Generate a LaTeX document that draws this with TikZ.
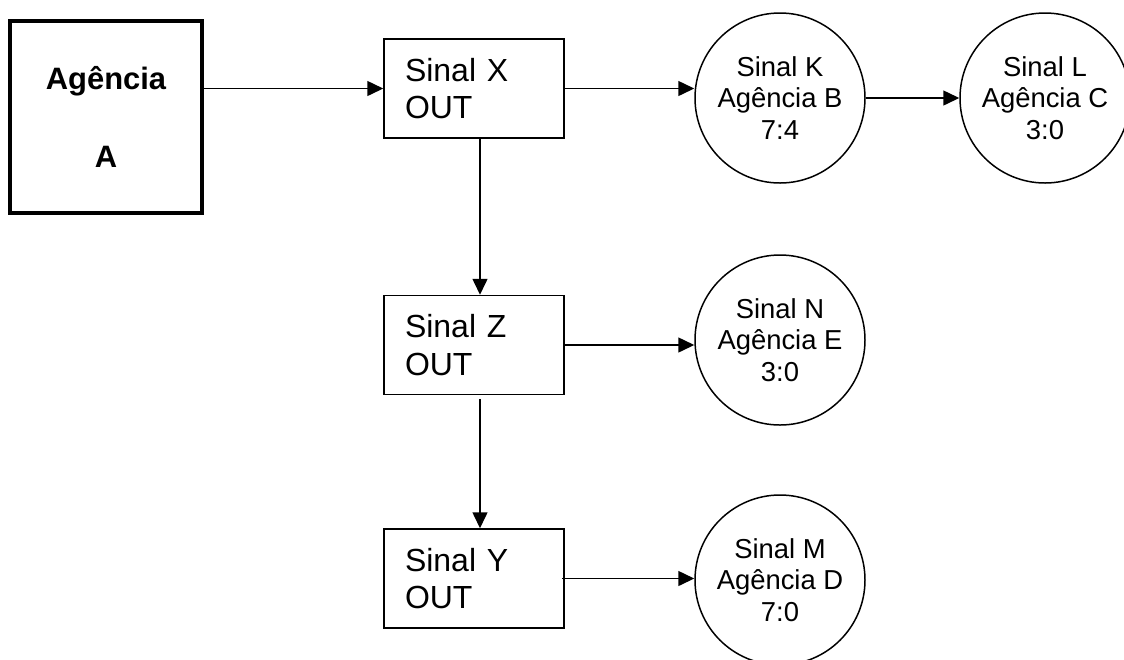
\documentclass[tikz,border=0pt]{standalone}
\usepackage{fontspec}
\setmainfont{Liberation Sans}
\usetikzlibrary{positioning, calc, arrows.meta}

\tikzset{
	caixa/.style={draw, line width=0.85pt, minimum width=3.6cm, minimum height=1.98cm,
		text width=2.76cm, align=left, inner sep=0pt, font=\fontsize{18.2}{21.5}\selectfont},
	origem/.style={draw, line width=2pt, minimum size=3.84cm, inner sep=0pt, align=center,
		font=\fontsize{17.6}{22}\selectfont\bfseries},
	sinal/.style={draw, circle, line width=0.85pt, minimum size=3.4cm, inner sep=0pt,
		align=center, font=\fontsize{15.6}{17.9}\selectfont},
	seta/.style={line width=0.85pt, -{Triangle[length=0.32cm,width=0.3cm]}}
}

\begin{document}
\begin{tikzpicture}
	\useasboundingbox (0,0) rectangle (22.48,-13.18);
	
	% Agencia de origem
	\node[origem] (A) at (2.12,-2.34) {Agência\\[22pt]A};
	
	% Sinais de saida
	\node[caixa] (X) at (9.48,-1.77) {Sinal X\\OUT};
	\node[caixa] (Z) at (9.48,-6.9) {Sinal Z\\OUT};
	\node[caixa] (Y) at (9.48,-11.57) {Sinal Y\\OUT};
	
	% Sinais nas outras agencias
	\node[sinal] (K) at (15.6,-1.96) {Sinal K\\Agência B\\7:4};
	\node[sinal] (L) at (20.9,-1.96) {Sinal L\\Agência C\\3:0};
	\node[sinal] (N) at (15.6,-6.8) {Sinal N\\Agência E\\3:0};
	\node[sinal] (M) at (15.6,-11.6) {Sinal M\\Agência D\\7:0};
	
	% Ligacoes
	\draw[seta] (A.east |- X.west) -- (X.west);
	\draw[seta] (X.east) -- (X.east -| K.west);
	\draw[seta] (K) -- (L);
	\draw[seta] ([xshift=0.12cm]X.south) -- ([xshift=0.12cm]Z.north);
	\draw[seta] (Z.east) -- (Z.east -| N.west);
	\draw[seta] ([xshift=0.12cm,yshift=-0.08cm]Z.south) -- ([xshift=0.12cm]Y.north);
	\draw[seta] ([xshift=-0.06cm]Y.east) -- (Y.east -| M.west);
\end{tikzpicture}
\end{document}
